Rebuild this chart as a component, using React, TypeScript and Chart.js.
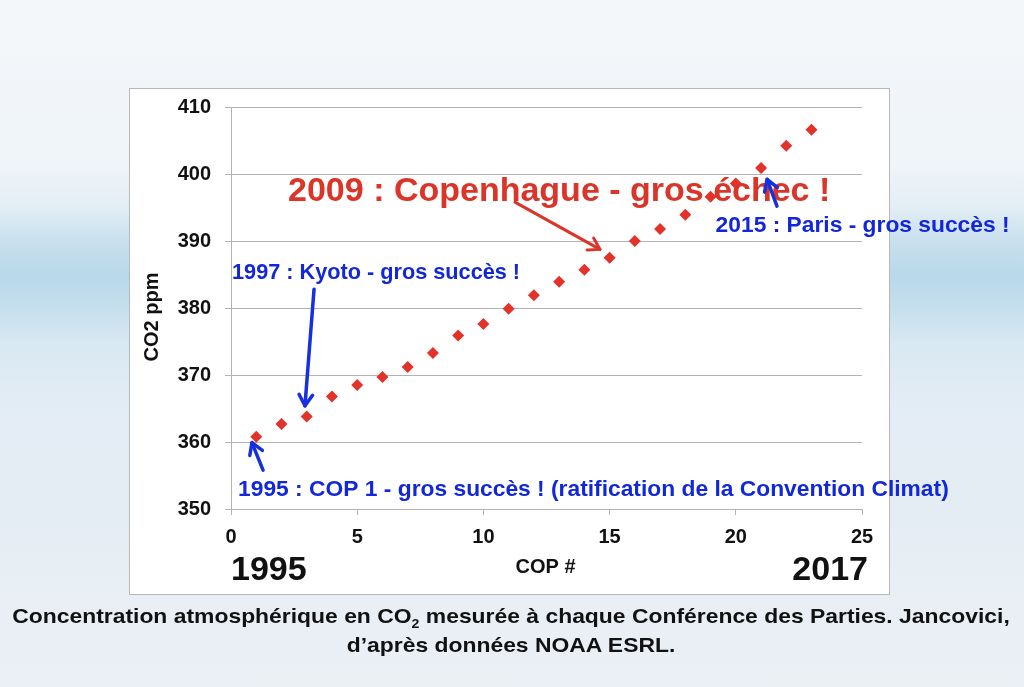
import React, { useEffect, useRef } from 'react';
import { Chart, registerables } from 'chart.js';

Chart.register(...registerables);

// ---- data ----
const COP_NUMBERS = [1, 2, 3, 4, 5, 6, 7, 8, 9, 10, 11, 12, 13, 14, 15, 16, 17, 18, 19, 20, 21, 22, 23];
const CO2_PPM = [360.8, 362.7, 363.8, 366.8, 368.5, 369.7, 371.2, 373.3, 375.9, 377.6, 379.9, 381.9, 383.9, 385.7, 387.5, 390.0, 391.8, 393.9, 396.6, 398.6, 400.9, 404.2, 406.6];

const X_TICKS = [0, 5, 10, 15, 20, 25];
const Y_TICKS = [350, 360, 370, 380, 390, 400, 410];
const YEAR_LABELS = ['1995', '2017'];

const X_TITLE = 'COP #';
const Y_TITLE = 'CO2 ppm';

const ANNOT_TEXTS = [
  '2009 : Copenhague - gros échec !',
  '1997 : Kyoto - gros succès !',
  '1995 : COP 1 - gros succès ! (ratification de la Convention Climat)',
  '2015 : Paris - gros succès !',
];
const ANNOT_X = [2.26, 0.04, 0.28, 19.2];
const ANNOT_Y = [395.9, 384.3, 351.95, 391.3];
const ANNOT_COLORS = ['#db3529', '#1227d9', '#1227d9', '#1227d9'];
const ANNOT_SIZES = [34, 21.7, 22.8, 22.8];

const ARROW_FROM_X = [11.25, 3.29, 1.27, 21.63];
const ARROW_FROM_Y = [395.8, 382.8, 355.8, 395.2];
const ARROW_TO_X = [14.62, 2.93, 0.83, 21.24];
const ARROW_TO_Y = [388.75, 365.4, 359.9, 399.2];
const ARROW_COLORS = ['#db3529', '#1630e0', '#1630e0', '#1630e0'];

const FONT = '"Liberation Sans", Arial, Helvetica, sans-serif';

const annotationPlugin = {
  id: 'annotations',
  beforeDatasetsDraw(chart: any) {
    const { ctx, scales } = chart;
    const x = scales.x;
    const y = scales.y;
    ctx.save();
    ctx.textAlign = 'left';
    ctx.textBaseline = 'alphabetic';
    for (let i = 0; i < ANNOT_TEXTS.length; i++) {
      ctx.font = `bold ${ANNOT_SIZES[i]}px ${FONT}`;
      ctx.fillStyle = ANNOT_COLORS[i];
      ctx.fillText(ANNOT_TEXTS[i], x.getPixelForValue(ANNOT_X[i]), y.getPixelForValue(ANNOT_Y[i]));
    }
    ctx.restore();
  },
  afterDatasetsDraw(chart: any) {
    const { ctx, scales } = chart;
    const x = scales.x;
    const y = scales.y;
    ctx.save();
    for (let i = 0; i < ARROW_FROM_X.length; i++) {
      const x0 = x.getPixelForValue(ARROW_FROM_X[i]);
      const y0 = y.getPixelForValue(ARROW_FROM_Y[i]);
      const x1 = x.getPixelForValue(ARROW_TO_X[i]);
      const y1 = y.getPixelForValue(ARROW_TO_Y[i]);
      const ang = Math.atan2(y1 - y0, x1 - x0);
      const head = 13;
      const spread = 0.55;
      ctx.strokeStyle = ARROW_COLORS[i];
      ctx.lineWidth = i === 0 ? 3 : 3.5;
      ctx.lineCap = 'round';
      ctx.lineJoin = 'round';
      ctx.beginPath();
      ctx.moveTo(x0, y0);
      ctx.lineTo(x1, y1);
      ctx.stroke();
      ctx.beginPath();
      ctx.moveTo(x1 - head * Math.cos(ang - spread), y1 - head * Math.sin(ang - spread));
      ctx.lineTo(x1, y1);
      ctx.lineTo(x1 - head * Math.cos(ang + spread), y1 - head * Math.sin(ang + spread));
      ctx.stroke();
    }
    ctx.restore();
  },
  afterDraw(chart: any) {
    const { ctx, chartArea } = chart;
    ctx.save();
    ctx.fillStyle = '#111';
    // y title
    ctx.font = `bold 20px ${FONT}`;
    ctx.textAlign = 'center';
    ctx.textBaseline = 'middle';
    ctx.translate(chartArea.left - 79, (chartArea.top + chartArea.bottom) / 2 + 9);
    ctx.rotate(-Math.PI / 2);
    ctx.fillText(Y_TITLE, 0, 0);
    ctx.setTransform(1, 0, 0, 1, 0, 0);
    // x title
    ctx.textBaseline = 'alphabetic';
    ctx.fillText(X_TITLE, (chartArea.left + chartArea.right) / 2 - 1, chartArea.bottom + 64);
    // years
    ctx.font = `bold 34px ${FONT}`;
    ctx.textAlign = 'left';
    ctx.fillText(YEAR_LABELS[0], chartArea.left, chartArea.bottom + 71);
    ctx.textAlign = 'right';
    ctx.fillText(YEAR_LABELS[1], chartArea.right + 6, chartArea.bottom + 71);
    ctx.restore();
  },
};

function CO2Chart() {
  const ref = useRef<HTMLCanvasElement>(null);
  useEffect(() => {
    if (!ref.current) return;
    const chart = new Chart(ref.current, {
      type: 'scatter',
      data: {
        datasets: [
          {
            label: 'CO2 ppm',
            data: COP_NUMBERS.map((c, i) => ({ x: c, y: CO2_PPM[i] })),
            pointStyle: 'rectRot',
            pointRadius: 6,
            pointHoverRadius: 6,
            pointBorderWidth: 0,
            backgroundColor: '#e2322a',
            borderColor: '#e2322a',
            showLine: false,
          },
        ],
      },
      options: {
        responsive: false,
        animation: false,
        events: [],
        layout: { padding: { left: 131, right: 162, top: 107, bottom: 138 } },
        plugins: {
          legend: { display: false },
          tooltip: { enabled: false },
          title: { display: false },
        },
        scales: {
          x: {
            type: 'linear',
            min: 0,
            max: 25,
            afterFit: (s: any) => { s.height = 40; },
            afterBuildTicks: (s: any) => { s.ticks = X_TICKS.map((v) => ({ value: v })); },
            grid: {
              drawOnChartArea: false,
              drawTicks: true,
              tickLength: 6,
              color: '#b3b3b3',
              lineWidth: 1,
            },
            border: { display: true, color: '#b3b3b3', width: 1 },
            ticks: {
              color: '#111',
              padding: 10,
              font: { family: FONT, size: 20, weight: 'bold' },
              maxRotation: 0,
            },
          },
          y: {
            type: 'linear',
            min: 350,
            max: 410,
            afterFit: (s: any) => { s.width = 100; },
            afterBuildTicks: (s: any) => { s.ticks = Y_TICKS.map((v) => ({ value: v })); },
            grid: {
              drawOnChartArea: true,
              drawTicks: true,
              tickLength: 6,
              color: '#b3b3b3',
              lineWidth: 1,
            },
            border: { display: true, color: '#b3b3b3', width: 1 },
            ticks: {
              color: '#111',
              padding: 14,
              font: { family: FONT, size: 20, weight: 'bold' },
            },
          },
        },
      },
      plugins: [annotationPlugin],
    } as any);
    return () => chart.destroy();
  }, []);
  return <canvas ref={ref} width={1024} height={687} style={{ position: 'absolute', left: 0, top: 0, width: 1024, height: 687 }} />;
}

export default function App() {
  return (
    <div
      style={{
        position: 'fixed',
        left: 0,
        top: 0,
        width: 1024,
        height: 687,
        overflow: 'hidden',
        fontFamily: FONT,
        background:
          'linear-gradient(180deg, #f4f7fa 0%, #eff4f8 24%, #e3eef5 30%, #c9e0ee 35%, #b9d8ea 40%, #c6dfed 45%, #d9e8f2 50%, #e2ecf4 58%, #e5edf4 75%, #ebf0f5 100%)',
      }}
    >
      <div
        style={{
          position: 'absolute',
          left: 129,
          top: 88,
          width: 759,
          height: 505,
          background: '#ffffff',
          border: '1px solid #b8b8b8',
        }}
      />
      <CO2Chart />
      <div
        style={{
          position: 'absolute',
          left: 0,
          top: 603,
          width: 1022,
          textAlign: 'center',
          fontWeight: 'bold',
          fontSize: 21,
          lineHeight: '26px',
          color: '#111',
          transform: 'scaleX(1.09)',
          transformOrigin: '511px 0',
        }}
      >
        <div>
          Concentration atmosphérique en CO
          <sub style={{ fontSize: 13, verticalAlign: 'baseline', position: 'relative', top: 5 }}>2</sub> mesurée à chaque Conférence des Parties. Jancovici,
        </div>
        <div>d’après données NOAA ESRL.</div>
      </div>
    </div>
  );
}
